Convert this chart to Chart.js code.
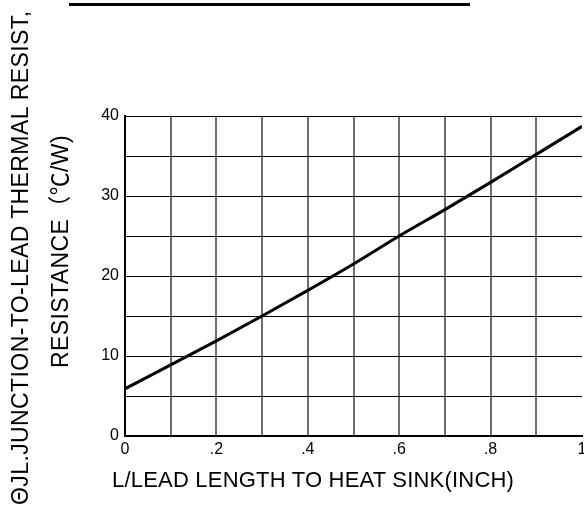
<!DOCTYPE html>
<html>
<head>
<meta charset="utf-8">
<script src="https://cdn.jsdelivr.net/npm/chart.js@4.4.0/dist/chart.umd.min.js"></script>
<style>
    html, body { margin: 0; padding: 0; background: #fff; overflow: hidden; }
    .wrap { position: relative; width: 584px; height: 512px; }
    .txt {
        position: absolute;
        font-family: "Liberation Sans", Arial, "Noto Sans CJK SC", sans-serif;
        font-size: 22px;
        line-height: 22px;
        white-space: nowrap;
        color: #000;
    }
    .rot { transform-origin: 0 0; transform: rotate(-90deg); font-size: 23px; line-height: 23px; letter-spacing: 0.4px; }
    .topline { position: absolute; left: 69px; top: 3px; width: 401px; height: 3px; background: #000; }
</style>
</head>
<body>
<div class="wrap">
    <canvas id="thermalChart" width="584" height="512"></canvas>
    <div class="topline"></div>
    <div class="txt rot" style="left:9px; top:505px;">ΘJL.JUNCTION-TO-LEAD THERMAL RESIST,</div>
    <div class="txt rot" style="left:49px; top:368px;">RESISTANCE（℃/W)</div>
    <div class="txt" style="left:112px; top:469px; letter-spacing:0.2px;">L/LEAD LENGTH TO HEAT SINK(INCH)</div>
</div>
<script>
// lead length (inch) vs thermal resistance (C/W)
const leadLength = [0, 0.1, 0.2, 0.3, 0.4, 0.5, 0.6, 0.7, 0.8, 0.9, 1.0];
const resistance = [5.9, 8.9, 11.9, 15.0, 18.2, 21.5, 25.0, 28.3, 31.7, 35.2, 38.7];

const xTickLabels = ['0', '.2', '.4', '.6', '.8', '1'];
const yTickLabels = ['0', '10', '20', '30', '40'];

const tickFont = { family: '"Liberation Sans", Arial, sans-serif', size: 16 };

const ctx = document.getElementById('thermalChart').getContext('2d');

new Chart(ctx, {
    type: 'line',
    data: {
        datasets: [{
            data: leadLength.map((x, i) => ({ x: x, y: resistance[i] })),
            borderColor: '#000',
            borderWidth: 3,
            pointRadius: 0,
            fill: false,
            cubicInterpolationMode: 'monotone'
        }]
    },
    options: {
        responsive: false,
        devicePixelRatio: 1,
        animation: false,
        layout: { padding: { top: 116, right: 2, bottom: 0, left: 0 } },
        plugins: {
            legend: { display: false },
            tooltip: { enabled: false }
        },
        scales: {
            x: {
                type: 'linear',
                min: 0,
                max: 1,
                grid: {
                    drawTicks: false,
                    color: c => (c.tick && Math.round(c.tick.value * 10) === 10) ? 'rgba(0,0,0,0)' : '#6e6e6e',
                    lineWidth: 2
                },
                border: { color: '#000', width: 2 },
                ticks: {
                    stepSize: 0.1,
                    autoSkip: false,
                    maxRotation: 0,
                    padding: 4,
                    color: '#000',
                    font: tickFont,
                    callback: value => {
                        const i = Math.round(value * 10);
                        return i % 2 === 0 ? xTickLabels[i / 2] : '';
                    }
                },
                afterFit: s => {
                    s.height = 76;
                    s.paddingLeft = 0;
                    s.paddingRight = 0;
                }
            },
            y: {
                min: 0,
                max: 40,
                grid: {
                    drawTicks: false,
                    color: '#000',
                    lineWidth: 1
                },
                border: { color: '#000', width: 2 },
                ticks: {
                    stepSize: 5,
                    padding: 6,
                    color: '#000',
                    font: tickFont,
                    callback: value => value % 10 === 0 ? yTickLabels[value / 10] : ''
                },
                afterFit: s => {
                    s.width = 125;
                    s.paddingTop = 0;
                    s.paddingBottom = 0;
                }
            }
        }
    }
});
</script>
</body>
</html>
